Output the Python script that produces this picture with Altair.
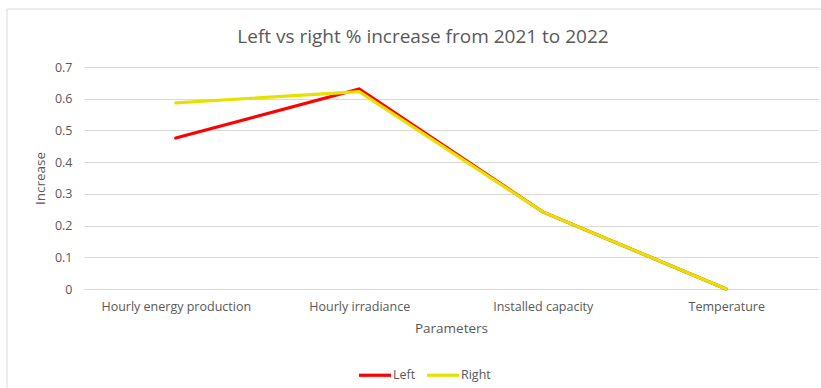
import altair as alt
import pandas as pd

# Parameters compared between the two sides
parameters = ["Hourly energy production", "Hourly irradiance", "Installed capacity", "Temperature"]
left_increase = [0.476, 0.631, 0.243, 0.0]
right_increase = [0.587, 0.622, 0.243, 0.0]

series_names = ["Left", "Right"]
series_colors = ["#ff0000", "#e6e100"]

df = pd.concat([
    pd.DataFrame({"Parameter": parameters, "Increase": left_increase, "Series": "Left"}),
    pd.DataFrame({"Parameter": parameters, "Increase": right_increase, "Series": "Right"}),
])

FONT = "Open Sans"
GRAY = "#595959"
W, H = 734, 222

lines = alt.Chart(df).mark_line(strokeWidth=3.2, strokeCap="round").encode(
    x=alt.X("Parameter:N", sort=parameters, scale=alt.Scale(paddingOuter=0.5, paddingInner=0),
            axis=alt.Axis(title="Parameters", labelAngle=0, ticks=False, domainColor="#d9d9d9",
                          labelPadding=11, titlePadding=9)),
    y=alt.Y("Increase:Q", scale=alt.Scale(domain=[0, 0.7], nice=False),
            axis=alt.Axis(title="Increase", values=[0, 0.1, 0.2, 0.3, 0.4, 0.5, 0.6, 0.7],
                          format="~g", ticks=False, domain=False, gridColor="#d9d9d9",
                          labelPadding=12, titlePadding=7)),
    color=alt.Color("Series:N", sort=series_names,
                    scale=alt.Scale(domain=series_names, range=series_colors),
                    legend=alt.Legend(title=None, orient="none", direction="horizontal",
                                      legendX=273, legendY=290, symbolType="stroke",
                                      symbolStrokeWidth=3.2, symbolSize=1024,
                                      labelFontSize=12.5, labelColor=GRAY, labelFont=FONT,
                                      columnPadding=4, labelOffset=0)),
    order=alt.Order("Series:N"),
)

# Light outer frame around the whole chart
frame = alt.Chart().mark_rect(fill=None, stroke="#d9d9d9", strokeWidth=1).encode(
    x=alt.value(-77), x2=alt.value(W + 10), y=alt.value(-58), y2=alt.value(H + 110)
)

chart = alt.layer(frame, lines).properties(
    width=W, height=H,
    title=alt.TitleParams("Left vs right % increase from 2021 to 2022", fontSize=19,
                          font=FONT, fontWeight="normal", color=GRAY, anchor="middle",
                          offset=0, dy=38, dx=-28),
    padding={"left": 84, "top": 67, "right": 3, "bottom": 99},
    autosize=alt.AutoSizeParams(type="none"),
).configure_axis(
    labelFont=FONT, titleFont=FONT, labelFontSize=12.5, titleFontSize=13.5,
    labelColor=GRAY, titleColor=GRAY, titleFontWeight="normal",
).configure_view(stroke=None)

chart.save("out.html", embed_options={"renderer": "svg", "actions": False})
